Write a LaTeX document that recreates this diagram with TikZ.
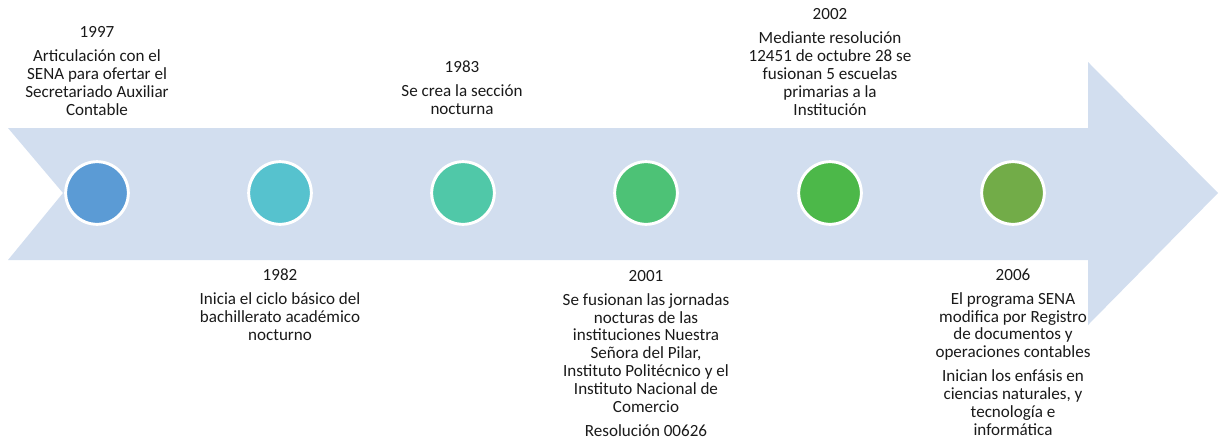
\documentclass[tikz,border=0pt]{standalone}
\usepackage{fontspec}
\setmainfont{Carlito}
\definecolor{arrowfill}{HTML}{D2DEEF}
\definecolor{cA}{HTML}{5B9BD5}
\definecolor{cB}{HTML}{56C2CE}
\definecolor{cC}{HTML}{50C8A8}
\definecolor{cD}{HTML}{4DC276}
\definecolor{cE}{HTML}{4CB849}
\definecolor{cF}{HTML}{72AC48}
\definecolor{txt}{HTML}{1A1A1A}
\tikzset{
  dot/.style={circle, draw=white, line width=2.2pt, minimum size=47pt, inner sep=0pt},
  evtext/.style={align=center, inner sep=0pt, anchor=base, text=txt,
    font=\fontsize{12.8pt}{13.35pt}\selectfont},
}
\begin{document}
\begin{tikzpicture}[x=0.75pt, y=-0.75pt]
\useasboundingbox (0,0) rectangle (1219,439);
% arrow
\fill[arrowfill] (8,128) -- (1088,128) -- (1088,62) -- (1218,193) -- (1088,325)
  -- (1088,260) -- (8,260) -- (63,193) -- cycle;
% circles
\node[dot, fill=cA] (c1) at (97,193) {};
\node[dot, fill=cB] (c2) at (280,193) {};
\node[dot, fill=cC] (c3) at (463,193) {};
\node[dot, fill=cD] (c4) at (646,193) {};
\node[dot, fill=cE] (c5) at (830,193) {};
\node[dot, fill=cF] (c6) at (1013,193) {};
% texts (anchor base = baseline of last line)
\node[evtext] (t1) at (97,115) {1997\\[4.6pt]Articulación con el\\SENA para ofertar el\\Secretariado Auxiliar\\Contable};
\node[evtext] (t3) at (462,114) {1983\\[4.6pt]Se crea la sección\\nocturna};
\node[evtext] (t5) at (830,115) {2002\\[4.6pt]Mediante resolución\\12451 de octubre 28 se\\fusionan 5 escuelas\\primarias a la\\Institución};
\node[evtext] (t2) at (280,340) {1982\\[4.6pt]Inicia el ciclo básico del\\bachillerato académico\\nocturno};
\node[evtext] (t4) at (646,436) {2001\\[4.6pt]Se fusionan las jornadas\\nocturas de las\\instituciones Nuestra\\Señora del Pilar,\\Instituto Politécnico y el\\Instituto Nacional de\\Comercio\\[4.6pt]Resolución 00626};
\node[evtext] (t6) at (1013,435) {2006\\[4.6pt]El programa SENA\\modifica por Registro\\de documentos y\\operaciones contables\\[4.6pt]Inician los enfásis en\\ciencias naturales, y\\tecnología e\\informática};
\end{tikzpicture}
\end{document}
